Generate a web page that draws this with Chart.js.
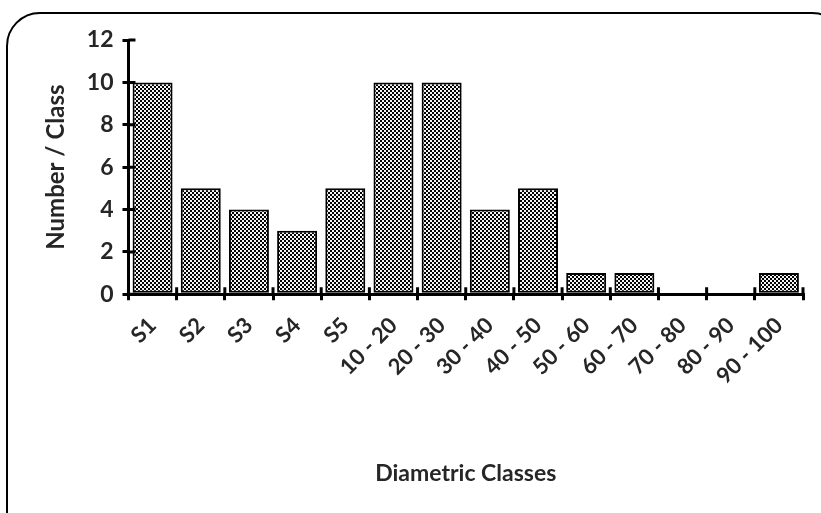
<!DOCTYPE html>
<html>
<head>
<meta charset="utf-8">
<script src="https://cdn.jsdelivr.net/npm/chart.js@4.4.0/dist/chart.umd.min.js"></script>
<style>
  html, body { margin: 0; padding: 0; background: #fff; overflow: hidden; }
  #frame {
    position: absolute; left: 6px; top: 12px; width: 840px; height: 540px;
    border: 2.5px solid #000; border-radius: 34px; box-sizing: border-box;
  }
  #wrap { position: absolute; left: 0; top: 0; width: 821px; height: 513px; }
</style>
</head>
<body>
<div id="frame"></div>
<div id="wrap"><canvas id="myChart" width="821" height="513"></canvas></div>
<script>
const classes = ["S1", "S2", "S3", "S4", "S5", "10 - 20", "20 - 30", "30 - 40", "40 - 50",
  "50 - 60", "60 - 70", "70 - 80", "80 - 90", "90 - 100"];
const counts = [10, 5, 4, 3, 5, 10, 10, 4, 5, 1, 1, 0, 0, 1];
const yTicks = [0, 2, 4, 6, 8, 10, 12];

// checkered fill like the original
function makePattern() {
  const c = document.createElement("canvas");
  c.width = 4;
  c.height = 4;
  const g = c.getContext("2d");
  g.fillStyle = "#f4f4f4";
  g.fillRect(0, 0, 4, 4);
  g.fillStyle = "#000";
  g.fillRect(0, 0, 2, 2);
  g.fillRect(2, 2, 2, 2);
  return g.createPattern(c, "repeat");
}

// ticks that also go inside the axes
const innerTicks = {
  id: "innerTicks",
  afterDraw(chart) {
    const ctx = chart.ctx;
    const x = chart.scales.x;
    const y = chart.scales.y;
    ctx.save();
    ctx.strokeStyle = "#000";
    ctx.lineWidth = 3;
    ctx.beginPath();
    const half = (x.getPixelForValue(1) - x.getPixelForValue(0)) / 2;
    for (let i = 0; i <= classes.length; i++) {
      const px = x.getPixelForValue(i) - half;
      ctx.moveTo(px, y.bottom);
      ctx.lineTo(px, y.bottom - 7);
    }
    yTicks.forEach(function (v) {
      const py = y.getPixelForValue(v);
      ctx.moveTo(x.left, py);
      ctx.lineTo(x.left + 7, py);
    });
    ctx.stroke();
    ctx.restore();
  },
};

const ctx = document.getElementById("myChart");

new Chart(ctx, {
  type: "bar",
  data: {
    labels: classes,
    datasets: [
      {
        data: counts,
        backgroundColor: makePattern(),
        borderColor: "#000",
        borderWidth: 2,
        borderSkipped: false,
        barPercentage: 0.83,
        categoryPercentage: 1,
      },
    ],
  },
  options: {
    responsive: false,
    animation: false,
    layout: { padding: { left: 42, top: 40, right: 18, bottom: 26 } },
    plugins: {
      legend: { display: false },
      tooltip: { enabled: false },
    },
    scales: {
      x: {
        offset: true,
        grid: {
          offset: true,
          drawOnChartArea: false,
          drawTicks: true,
          tickLength: 6,
          color: "#000",
          lineWidth: 3,
        },
        border: { color: "#000", width: 3 },
        ticks: {
          minRotation: 45,
          maxRotation: 45,
          color: "#262626",
          padding: 12,
          font: { family: "Lato", size: 22, weight: "bold" },
        },
        title: {
          display: true,
          text: "Diametric Classes",
          color: "#262626",
          padding: { top: 58, bottom: 0 },
          font: { family: "Lato", size: 23, weight: "bold" },
        },
      },
      y: {
        min: 0,
        max: 12,
        afterBuildTicks: function (axis) {
          axis.ticks = yTicks.map((v) => ({ value: v }));
        },
        grid: {
          drawOnChartArea: false,
          drawTicks: true,
          tickLength: 6,
          color: "#000",
          lineWidth: 3,
        },
        border: { color: "#000", width: 3 },
        ticks: {
          color: "#262626",
          padding: 9,
          font: { family: "Lato", size: 23, weight: "bold" },
        },
        title: {
          display: true,
          text: "Number / Class",
          color: "#262626",
          padding: { top: 0, bottom: 7 },
          font: { family: "Lato", size: 24, weight: "bold" },
        },
      },
    },
  },
  plugins: [innerTicks],
});
</script>
</body>
</html>
